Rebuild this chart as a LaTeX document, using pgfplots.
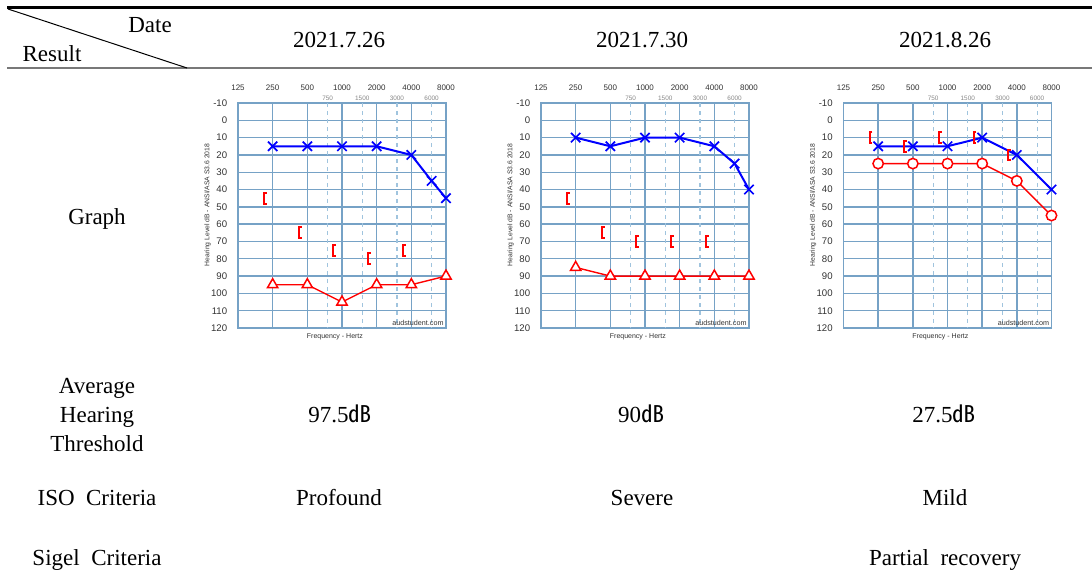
\documentclass[border=0pt]{standalone}
\usepackage{fontspec}
\setmainfont{Liberation Serif}
\newfontfamily\sansf{Liberation Sans}
\newfontfamily\cjk{Noto Sans CJK KR}
\usepackage{pgfplots}
\pgfplotsset{compat=1.18}

\definecolor{gridc}{RGB}{118,162,198}
\definecolor{dashc}{RGB}{160,196,222}
\definecolor{lblc}{RGB}{50,50,50}
\definecolor{midc}{RGB}{135,135,135}
\definecolor{audblue}{RGB}{0,0,255}
\definecolor{audred}{RGB}{255,0,0}
\definecolor{rulec}{RGB}{120,120,120}

\pgfdeclareplotmark{bkt}{%
  \pgfpathmoveto{\pgfqpoint{-2.9pt}{2.7pt}}%
  \pgfpathlineto{\pgfqpoint{-4.3pt}{2.7pt}}%
  \pgfpathlineto{\pgfqpoint{-4.3pt}{-2.7pt}}%
  \pgfpathlineto{\pgfqpoint{-2.9pt}{-2.7pt}}%
  \pgfusepathqstroke
}

\pgfplotsset{
  audio/.style={
    anchor=south west, scale only axis, width=104pt, height=112.5pt,
    xmin=0, xmax=6, ymin=-10, ymax=120, y dir=reverse,
    axis line style={gridc, line width=0.7pt},
    xtick={0,1,2,3,4,5,6},
    xticklabels={125,250,500,1000,2000,4000,8000},
    xticklabel pos=right,
    ytick={-10,0,10,20,30,40,50,60,70,80,90,100,110,120},
    yticklabels={-10,0,10,20,30,40,50,60,70,80,90,100,110,120},
    major tick length=0pt,
    grid=major,
    major grid style={gridc, line width=0.7pt},
    xticklabel style={font=\sansf\fontsize{4}{4}\selectfont, text=lblc, yshift=2.6pt},
    yticklabel style={font=\sansf\fontsize{4.8}{5}\selectfont, text=lblc, xshift=-1.9pt},
    extra x ticks={2.585,3.585,4.585,5.585},
    extra x tick labels={750,1500,3000,6000},
    extra x tick style={
      major grid style={dashc, dash pattern=on 2pt off 2pt, line width=0.6pt},
      xticklabel style={font=\sansf\fontsize{3.2}{4}\selectfont, text=midc, yshift=-4.8pt}},
    clip=false,
  },
  ac/.style={color=audblue, line width=1pt, mark=x, mark size=3.3pt, mark options={line width=0.85pt}},
  tri/.style={color=audred, line width=0.7pt, mark=triangle*, mark size=3pt, mark options={fill=white, line width=0.75pt}},
  circ/.style={color=audred, line width=0.7pt, mark=*, mark size=2.6pt, mark options={fill=white, line width=0.75pt}},
  br/.style={color=audred, only marks, mark=bkt, mark options={line width=1pt}},
}

\newcommand{\audlabels}{%
  \node[rotate=90, font=\sansf\fontsize{3.4}{4}\selectfont, text=lblc] at (axis description cs:-0.146,0.547) {Hearing Level dB - ANSI/ASA S3.6 2018};
  \node[font=\sansf\fontsize{3.5}{4}\selectfont, text=lblc] at (axis description cs:0.466,-0.04) {Frequency - Hertz};
  \node[font=\sansf\fontsize{3.6}{4}\selectfont, text=lblc] at (axis description cs:0.865,0.022) {audstudent.com};
}

\begin{document}
\begin{tikzpicture}[x=0.5pt,y=0.5pt]
\path[use as bounding box] (0,0) rectangle (1092,-583);

% table rules
\draw[line width=1.5pt] (7,-8) -- (1092,-8);
\draw[rulec, line width=0.6pt] (7,-68) -- (1092,-68);
\draw[line width=0.5pt] (8,-9) -- (187,-68);

\begin{scope}[font=\fontsize{11.5}{14}\selectfont]
\node[anchor=base] at (150,-33) {Date};
\node[anchor=base] at (52,-62) {Result};
\node[anchor=base] at (339,-48) {2021.7.26};
\node[anchor=base] at (642,-48) {2021.7.30};
\node[anchor=base] at (945,-48) {2021.8.26};

\node[anchor=base] at (97,-224) {Graph};

\node[anchor=base] at (97,-393) {Average};
\node[anchor=base] at (97,-422) {Hearing};
\node[anchor=base] at (97,-451) {Threshold};
\node[anchor=base] at (340,-422) {97.5{\cjk ㏈}};
\node[anchor=base] at (641,-422) {90{\cjk ㏈}};
\node[anchor=base] at (944,-422) {27.5{\cjk ㏈}};

\node[anchor=base] at (97,-505) {ISO\ \ Criteria};
\node[anchor=base] at (339,-505) {Profound};
\node[anchor=base] at (642,-505) {Severe};
\node[anchor=base] at (945,-505) {Mild};

\node[anchor=base] at (97,-565) {Sigel\ \ Criteria};
\node[anchor=base] at (945,-565) {Partial\ \ recovery};
\end{scope}

% ---------- audiogram 1 ----------
\begin{axis}[audio, at={(119pt,-164pt)}]
\addplot[tri] coordinates {(1,95) (2,95) (3,105) (4,95) (5,95) (6,90)};
\addplot[ac] coordinates {(1,15) (2,15) (3,15) (4,15) (5,20) (5.585,35) (6,45)};
\addplot[br] coordinates {(1,45) (2,65) (3,75) (4,80) (5,75)};
\audlabels
\end{axis}

% ---------- audiogram 2 ----------
\begin{axis}[audio, at={(270.5pt,-164pt)}]
\addplot[tri] coordinates {(1,85) (2,90) (3,90) (4,90) (5,90) (6,90)};
\addplot[ac] coordinates {(1,10) (2,15) (3,10) (4,10) (5,15) (5.585,25) (6,40)};
\addplot[br] coordinates {(1,45) (2,65) (3,70) (4,70) (5,70)};
\audlabels
\end{axis}

% ---------- audiogram 3 ----------
\begin{axis}[audio, at={(421.75pt,-164pt)}]
\addplot[circ] coordinates {(1,25) (2,25) (3,25) (4,25) (5,35) (6,55)};
\addplot[ac] coordinates {(1,15) (2,15) (3,15) (4,10) (5,20) (6,40)};
\addplot[br] coordinates {(1,10) (2,15) (3,10) (4,10) (5,20)};
\audlabels
\end{axis}
\end{tikzpicture}
\end{document}
